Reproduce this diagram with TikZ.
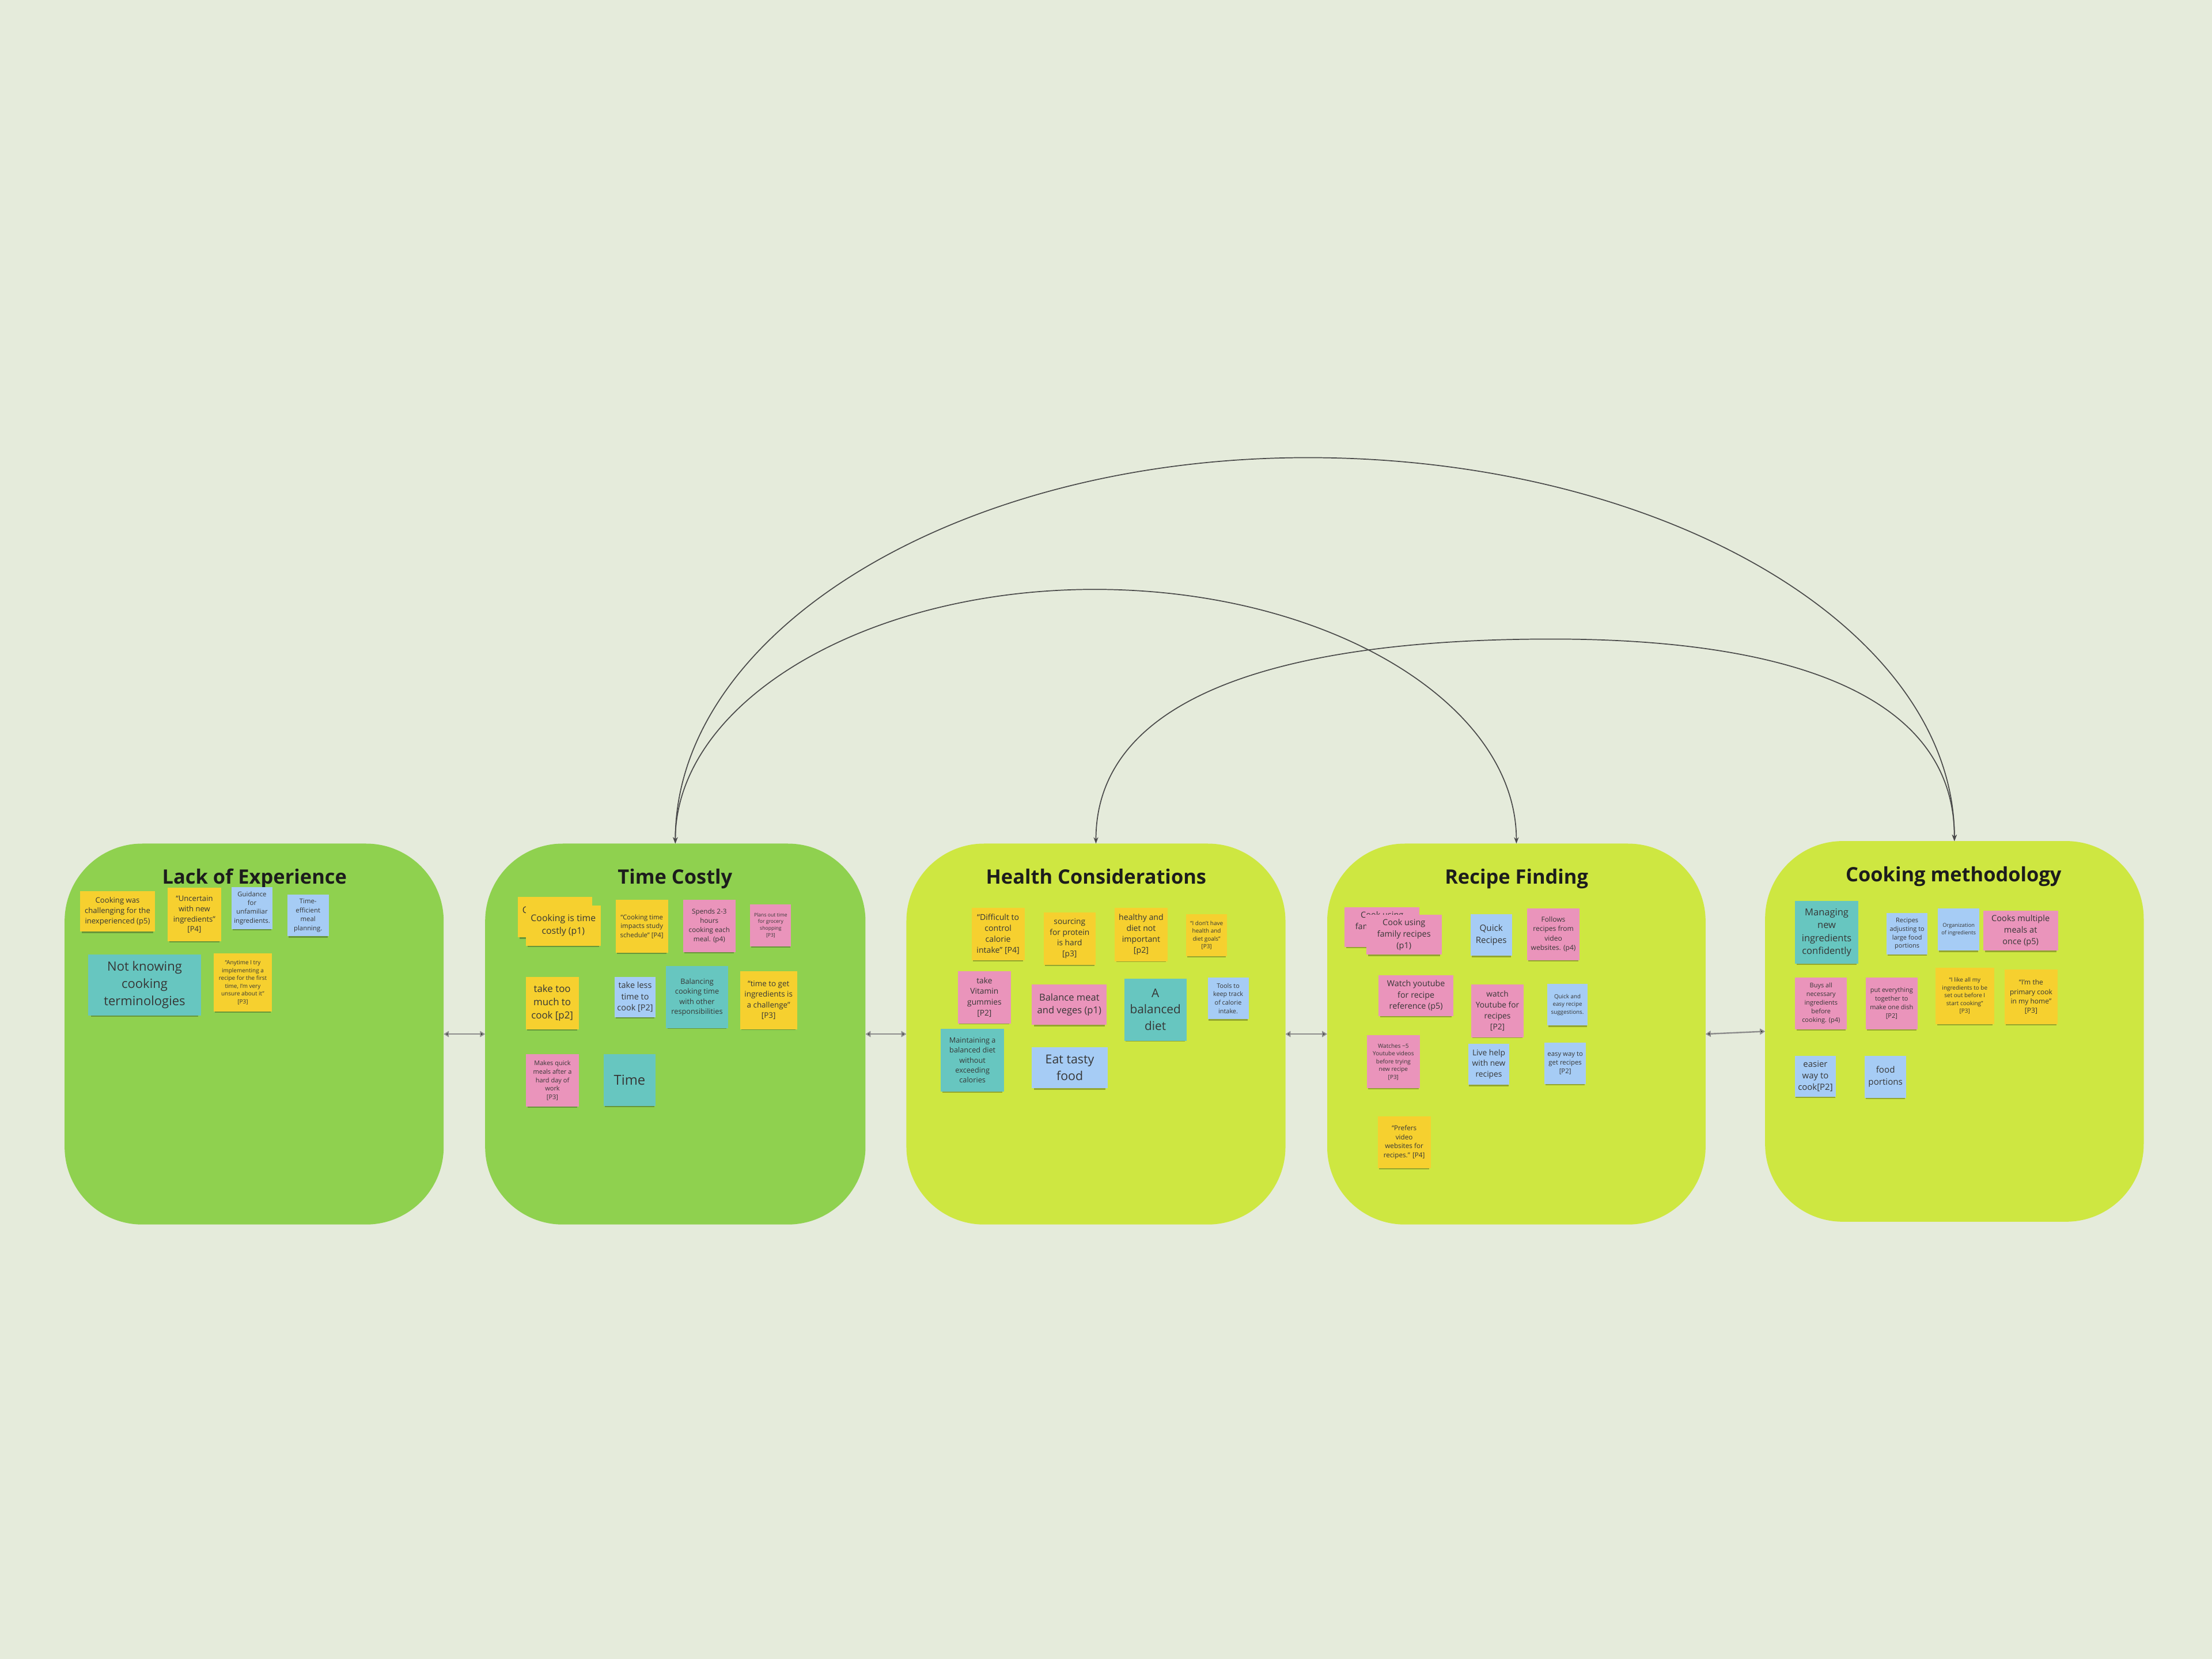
\documentclass[tikz,border=0pt]{standalone}
\usepackage{fontspec}
\setmainfont{Open Sans}
\usetikzlibrary{arrows.meta,shadows}
\definecolor{bg}{HTML}{E5EBDB}
\definecolor{grn}{HTML}{8FD14F}
\definecolor{lime}{HTML}{CEE741}
\definecolor{sy}{HTML}{F6D02F}
\definecolor{sp}{HTML}{EA94BB}
\definecolor{sb}{HTML}{A6CCF5}
\definecolor{st}{HTML}{67C6C0}
\definecolor{ink}{HTML}{363636}
\definecolor{ttl}{HTML}{1C1C1C}
\definecolor{arcc}{HTML}{4A4A4A}
\tikzset{
  panelbox/.style={rectangle, rounded corners=1.375cm, inner sep=0pt, outer sep=0pt},
  ptitle/.style={anchor=base, inner sep=0pt, text=ttl, font=\bfseries\fontsize{10}{12}\selectfont},
  sticky/.style={rectangle, inner sep=0pt, outer sep=0pt, align=center, text=ink,
    drop shadow={shadow xshift=0pt, shadow yshift=-1.3pt, shadow scale=0.95, opacity=0.28, fill=black}},
  arcline/.style={draw=arcc, line width=0.5pt, {Stealth[length=3.2pt,width=2.4pt]}-{Stealth[length=3.2pt,width=2.4pt]}},
  hlink/.style={draw=black!45, line width=0.7pt, {Triangle[length=2.6pt,width=3pt,fill=black]}-{Triangle[length=2.6pt,width=3pt,fill=black]}}
}
\newcommand\mypanel[6]{\node[panelbox, fill=#2, minimum width={(#5-#3)*0.025cm}, minimum height={(#6-#4)*0.025cm}] (#1) at ({(#3+#5)/2},{(#4+#6)/2}) {};}
\newcommand\sticky[8]{\node[sticky, fill=#2, minimum width={(#5-#3)*0.025cm}, minimum height={(#6-#4)*0.025cm}, font={\fontsize{#7pt}{\dimexpr #7pt*136/100\relax}\selectfont}] (#1) at ({(#3+#5)/2},{(#4+#6)/2}) {#8};}
\begin{document}
\begin{tikzpicture}[x=0.025cm, y=-0.025cm]
\useasboundingbox (0,0) rectangle (1568,1176);
\fill[bg] (0,0) rectangle (1568,1176);

% panels
\mypanel{p1}{grn}{45.8}{598}{314.5}{868}
\mypanel{p2}{grn}{343.9}{598}{613.5}{868}
\mypanel{p3}{lime}{642.5}{598}{911.2}{868}
\mypanel{p4}{lime}{940.8}{598}{1209}{868}
\mypanel{p5}{lime}{1251.2}{596.2}{1519.6}{866}

% titles
\node[ptitle] (t1) at (180.4,626.7) {Lack of Experience};
\node[ptitle] (t2) at (478.5,626.7) {Time Costly};
\node[ptitle] (t3) at (777,626.7) {Health Considerations};
\node[ptitle] (t4) at (1075,626.7) {Recipe Finding};
\node[ptitle] (t5) at (1384.8,624.8) {Cooking methodology};

% Lack of Experience
\sticky{n11}{sy}{56.8}{631.5}{109.8}{660.4}{3.8}{Cooking was\\challenging for the\\inexperienced (p5)}
\sticky{n12}{sy}{119}{629.2}{156.6}{667.2}{3.8}{“Uncertain\\with new\\ingredients”\\{[P4]}}
\sticky{n13}{sb}{164.1}{628.8}{193.2}{658.5}{3.3}{Guidance\\for\\unfamiliar\\ingredients.}
\sticky{n14}{sb}{203.7}{634.2}{233.0}{663.6}{3.3}{Time-\\efficient\\meal\\planning.}
\sticky{n15}{st}{62.4}{676.4}{142.6}{720}{6.4}{Not knowing\\cooking\\terminologies}
\sticky{n16}{sy}{151.3}{675.7}{192.9}{717.2}{2.9}{“Anytime I try\\implementing a\\recipe for the first\\time, I'm very\\unsure about it”\\{[P3]}}

% Time Costly
\sticky{n21b}{sy}{366.9}{635.9}{419.8}{664.4}{4.6}{Cooking is time\\costly (p1)}
\sticky{n21}{sy}{372.7}{641.7}{425.9}{670.3}{4.6}{Cooking is time\\costly (p1)}
\sticky{n22}{sy}{436.4}{638}{473.5}{675.3}{3.3}{“Cooking time\\impacts study\\schedule” [P4]}
\sticky{n23}{sp}{484.3}{638}{521.3}{674.8}{3.4}{Spends 2-3\\hours\\cooking each\\meal. (p4)}
\sticky{n24}{sp}{531.8}{641}{560.8}{670.7}{2.5}{Plans out time\\for grocery\\shopping\\{[P3]}}
\sticky{n25}{sy}{372.7}{692.7}{410.2}{729.5}{4.9}{take too\\much to\\cook [p2]}
\sticky{n26}{sb}{435.8}{692.5}{464.6}{721}{4.2}{take less\\time to\\cook [P2]}
\sticky{n27}{st}{472.1}{684.9}{516.1}{728.8}{3.7}{Balancing\\cooking time\\with other\\responsibilities}
\sticky{n28}{sy}{524.5}{688.4}{565.1}{729.5}{3.9}{“time to get\\ingredients is\\a challenge”\\{[P3]}}
\sticky{n29}{sp}{373}{747.2}{410.2}{784.6}{3.2}{Makes quick\\meals after a\\hard day of\\work\\{[P3]}}
\sticky{n210}{st}{428}{747.2}{464.6}{784}{6.9}{Time}

% Health Considerations
\sticky{n31}{sy}{688.7}{643.5}{726.3}{680.8}{4.1}{“Difficult to\\control\\calorie\\intake” [P4]}
\sticky{n32}{sy}{739.7}{646.7}{776.7}{683.8}{4.0}{sourcing\\for protein\\is hard\\{[p3]}}
\sticky{n33}{sy}{790.3}{643.5}{827.5}{681.3}{4.1}{healthy and\\diet not\\important\\{[p2]}}
\sticky{n34}{sy}{840.9}{648.1}{869.7}{677.8}{2.9}{“I don't have\\health and\\diet goals”\\{[P3]}}
\sticky{n35}{sp}{679.1}{688.4}{716.5}{725.4}{4.0}{take\\Vitamin\\gummies\\{[P2]}}
\sticky{n36}{sp}{731.5}{697.9}{784.5}{726.5}{4.8}{Balance meat\\and veges (p1)}
\sticky{n37}{st}{796.9}{693.6}{841.1}{737.7}{6.05}{A\\balanced\\diet}
\sticky{n38}{sb}{856.1}{693}{885.1}{722.4}{3.15}{Tools to\\keep track\\of calorie\\intake.}
\sticky{n39}{st}{666.9}{729.3}{711.8}{773.8}{3.7}{Maintaining a\\balanced diet\\without\\exceeding\\calories}
\sticky{n310}{sb}{731.5}{742.5}{785.1}{771.4}{6.2}{Eat tasty\\food}

% Recipe Finding
\sticky{n41b}{sp}{953.1}{643.1}{1006.3}{671.2}{4.2}{Cook using\\family recipes\\(p1)}
\sticky{n41}{sp}{968.4}{648.5}{1022}{676.7}{4.2}{Cook using\\family recipes\\(p1)}
\sticky{n42}{sb}{1042.4}{648.1}{1071.7}{677.5}{4.4}{Quick\\Recipes}
\sticky{n43}{sp}{1082.5}{643.8}{1119.7}{680.8}{3.5}{Follows\\recipes from\\video\\websites. (p4)}
\sticky{n44}{sp}{977.1}{691.4}{1030.4}{720.2}{4.16}{Watch youtube\\for recipe\\reference (p5)}
\sticky{n45}{sp}{1042.9}{697.9}{1080.1}{735.2}{4.0}{watch\\Youtube for\\recipes\\{[P2]}}
\sticky{n46}{sb}{1096.7}{697.6}{1125.5}{727}{2.85}{Quick and\\easy recipe\\suggestions.}
\sticky{n47}{sp}{968.8}{733.9}{1006.6}{771.4}{2.9}{Watches \textasciitilde5\\Youtube videos\\before trying\\new recipe\\{[P3]}}
\sticky{n48}{sb}{1040.7}{739.7}{1070}{769}{4.0}{Live help\\with new\\recipes}
\sticky{n49}{sb}{1094.9}{739}{1124.1}{768.3}{3.3}{easy way to\\get recipes\\{[P2]}}
\sticky{n410}{sy}{976.6}{791.2}{1014.1}{828.2}{3.4}{“Prefers\\video\\websites for\\recipes.” [P4]}

% Cooking methodology
\sticky{n51}{st}{1272.5}{638.7}{1317.2}{683.3}{4.8}{Managing\\new\\ingredients\\confidently}
\sticky{n52}{sb}{1337.3}{647.2}{1366.4}{676.5}{3.18}{Recipes\\adjusting to\\large food\\portions}
\sticky{n53}{sb}{1373.7}{644.1}{1403.1}{673.8}{2.7}{Organization\\of ingredients}
\sticky{n54}{sp}{1405.7}{645.5}{1458.9}{673.8}{4.23}{Cooks multiple\\meals at\\once (p5)}
\sticky{n55}{sp}{1272.5}{692.8}{1309.2}{729.5}{3.19}{Buys all\\necessary\\ingredients\\before\\cooking. (p4)}
\sticky{n56}{sp}{1322.4}{692.8}{1359.4}{729.5}{3.2}{put everything\\together to\\make one dish\\{[P2]}}
\sticky{n57}{sy}{1372}{685.8}{1413.5}{726}{2.9}{“I like all my\\ingredients to be\\set out before I\\start cooking”\\{[P3]}}
\sticky{n58}{sy}{1420.9}{687.4}{1458.6}{726}{3.49}{“I'm the\\primary cook\\in my home”\\{[P3]}}
\sticky{n59}{sb}{1272.2}{748.3}{1301.5}{777.4}{4.34}{easier\\way to\\cook[P2]}
\sticky{n510}{sb}{1321.9}{748.3}{1351.2}{778.3}{4.4}{food\\portions}

% horizontal links
\draw[hlink] (p1.east) -- (p2.west);
\draw[hlink] (p2.east) -- (p3.west);
\draw[hlink] (p3.east) -- (p4.west);
\draw[hlink] (p4.east) -- (p5.west);

% arcs
\coordinate (k1) at (927,324.4);
\coordinate (k2) at (776,417.8);
\coordinate (k3) at (1100,453);
\draw[arcline] (p2.north) .. controls +(0,-151) and +(-247.5,0) .. (k1) .. controls +(253,0) and +(0,-150) .. (p5.north);
\draw[arcline] (p2.north) .. controls +(0,-99.5) and +(-164,0) .. (k2) .. controls +(165,0) and +(0,-99.5) .. (p4.north);
\draw[arcline] (p3.north) .. controls +(0,-104) and +(-193,0) .. (k3) .. controls +(170,0) and +(0,-103) .. (p5.north);
\end{tikzpicture}
\end{document}
